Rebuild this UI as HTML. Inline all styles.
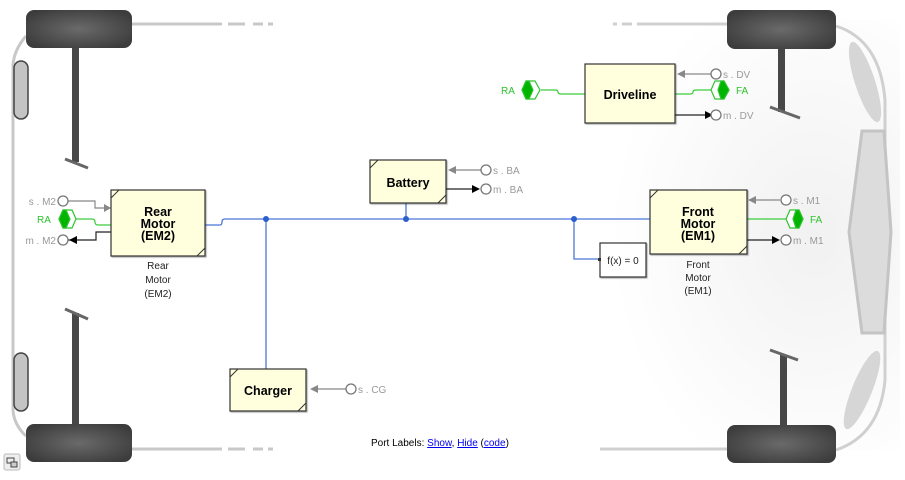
<!DOCTYPE html>
<html><head><style>
body{margin:0;width:905px;height:475px;overflow:hidden;background:#fff;font-family:"Liberation Sans",Arial,sans-serif}
svg text{font-family:"Liberation Sans",Arial,sans-serif}
</style></head><body>
<svg width="905" height="475" viewBox="0 0 905 475" xmlns="http://www.w3.org/2000/svg">
<defs>
<radialGradient id="tg" cx="0.5" cy="0.5" r="0.6"><stop offset="0" stop-color="#6a6a6a"/><stop offset="1" stop-color="#3c3c3c"/></radialGradient>
<radialGradient id="bg" cx="0.75" cy="0.5" r="0.6"><stop offset="0" stop-color="#f1f1f1"/><stop offset="1" stop-color="#fff"/></radialGradient>
<filter id="sh"><feDropShadow dx="1" dy="1" stdDeviation="0.6" flood-color="#000" flood-opacity="0.35"/></filter>
</defs>
<rect x="560" y="20" width="340" height="430" fill="url(#bg)"/>
<g fill="none" stroke="#c8c8c8" stroke-width="3">
<path d="M132 24 H222 M228 24 H245 M253 24 H263 M268 24 H273"/>
<path d="M132 449 H222 M228 449 H245 M253 449 H263 M268 449 H273"/>
<path d="M26 36 Q14 50 13 65 V410 Q14 425 26 436"/>
<path d="M613 24 H617 M622 24 H632 M637 24 H727 M836 26 Q880 40 885 100 V380 Q880 435 836 450 M600 449 H727" stroke="#d0d0d0"/>
</g>
<rect x="14" y="61" width="14" height="58" rx="7" fill="#c4c4c4" stroke="#444" stroke-width="1.5"/>
<rect x="14" y="353" width="14" height="58" rx="7" fill="#c4c4c4" stroke="#444" stroke-width="1.5"/>
<ellipse cx="865" cy="82" rx="10" ry="42" transform="rotate(-18 865 82)" fill="#d6d6d6"/>
<ellipse cx="862" cy="390" rx="10" ry="42" transform="rotate(22 862 390)" fill="#d6d6d6"/>
<polygon points="862,131 884,131 891,232 884,333 862,333 849,232" fill="#dcdcdc" stroke="#c4c4c4" stroke-width="3"/>
<g fill="#474747">
<rect x="72" y="46" width="7" height="116"/>
<rect x="778" y="48" width="7" height="64"/>
<rect x="72" y="313" width="7" height="112"/>
<rect x="780" y="355" width="7" height="70"/>
</g>
<g stroke="#666" stroke-width="3">
<line x1="65" y1="159" x2="88" y2="168"/>
<line x1="770" y1="107" x2="800" y2="118"/>
<line x1="65" y1="309" x2="88" y2="319"/>
<line x1="770" y1="350" x2="798" y2="360"/>
</g>
<g fill="url(#tg)">
<rect x="26" y="10" width="106" height="38" rx="8"/>
<rect x="26" y="424" width="106" height="38" rx="8"/>
<rect x="727" y="10" width="109" height="39" rx="8"/>
<rect x="727" y="425" width="109" height="38" rx="8"/>
</g>
<g fill="none" stroke="#4a78d8" stroke-width="1.3">
<path d="M205 225 H220 Q222 225 222 222 Q222 219 225 219 H650"/>
<path d="M266 219 V369"/>
<path d="M406 203 V219"/>
<path d="M574 219 V259 H600"/>
</g>
<g fill="#2a5fcc"><circle cx="266" cy="219" r="3"/><circle cx="406" cy="219" r="3"/><circle cx="574" cy="219" r="3"/></g>
<g fill="none" stroke-width="1.2">
<path d="M67 201 H95 V208 H104" stroke="#888"/>
<path d="M67 240 H96 V232 H111" stroke="#222"/>
<path d="M76 219 H92 Q95 219 95 222 Q95 225 98 225 H111" stroke="#3ccc3c"/>
<path d="M780 200 H756" stroke="#888"/>
<path d="M747 240 H772" stroke="#222"/>
<path d="M747 219 H786" stroke="#3ccc3c"/>
<path d="M481 170 H456" stroke="#888"/>
<path d="M446 189 H472" stroke="#222"/>
<path d="M350 389 H318" stroke="#888"/>
<path d="M711 74 H685" stroke="#888"/>
<path d="M675 115 H705" stroke="#222"/>
<path d="M675 94 H690 Q693 94 693 92 Q693 90 696 90 H712" stroke="#3ccc3c"/>
<path d="M541 90 H555 Q558 90 558 92 Q558 94 561 94 H585" stroke="#3ccc3c"/>
</g>
<g fill="#888">
<polygon points="104,204 111,208 104,212"/>
<polygon points="756,196 748,200 756,204"/>
<polygon points="456,166 448,170 456,174"/>
<polygon points="318,385 310,389 318,393"/>
<polygon points="685,70 677,74 685,78"/>
</g>
<g fill="#000">
<polygon points="69,240 77,236 77,244"/>
<polygon points="772,236 780,240 772,244"/>
<polygon points="472,185 480,189 472,193"/>
<polygon points="705,111 713,115 705,119"/>
</g>
<g fill="#fff" stroke="#777" stroke-width="1.3">
<circle cx="63" cy="201" r="5"/><circle cx="63" cy="240" r="5"/>
<circle cx="786" cy="200" r="5"/><circle cx="786" cy="240" r="5"/>
<circle cx="486" cy="170" r="5"/><circle cx="486" cy="189" r="5"/>
<circle cx="351" cy="389" r="5"/>
<circle cx="716" cy="74" r="5"/><circle cx="716" cy="115" r="5"/>
</g>
<g stroke="#2ec42e" stroke-width="1.2">
<polygon points="59,219 63,210 72,210 76,219 72,228 63,228" fill="#fff"/>
<polygon points="59,219 63,210 66,210 70,219 66,228 63,228" fill="#00b400"/>
<polygon points="786,219 790,210 799,210 803,219 799,228 790,228" fill="#fff"/>
<polygon points="793,219 796,210 799,210 803,219 799,228 796,228" fill="#00b400"/>
<polygon points="522,90 526,81 535,81 540,90 535,99 526,99" fill="#fff"/>
<polygon points="522,90 526,81 529,81 533,90 529,99 526,99" fill="#00b400"/>
<polygon points="711,90 715,81 724,81 729,90 724,99 715,99" fill="#fff"/>
<polygon points="718,90 721,81 724,81 729,90 724,99 721,99" fill="#00b400"/>
</g>
<g fill="#ffffde" stroke="#333" stroke-width="1.2" filter="url(#sh)">
<rect x="111" y="190" width="94" height="66"/>
<rect x="370" y="160" width="76" height="43"/>
<rect x="650" y="190" width="97" height="64"/>
<rect x="230" y="369" width="76" height="42"/>
<rect x="585" y="64" width="90" height="59"/>
<rect x="600" y="243" width="46" height="34" fill="#fff"/>
</g>
<g stroke="#333" stroke-width="1">
<path d="M111 198 L119 190 M197 256 L205 248"/>
<path d="M370 168 L378 160 M438 203 L446 195"/>
<path d="M650 198 L658 190 M739 254 L747 246"/>
<path d="M230 377 L238 369 M298 411 L306 403"/>
</g>
<rect x="598" y="258" width="3" height="3" fill="#333"/>
<g font-weight="bold" font-size="12.5" text-anchor="middle" fill="#000">
<text x="158" y="216">Rear</text><text x="158" y="228">Motor</text><text x="158" y="240">(EM2)</text>
<text x="698" y="216">Front</text><text x="698" y="228">Motor</text><text x="698" y="240">(EM1)</text>
<text x="408" y="187">Battery</text>
<text x="268" y="395">Charger</text>
<text x="630" y="99">Driveline</text>
</g>
<g font-size="10" text-anchor="middle" fill="#222">
<text x="158" y="269">Rear</text><text x="158" y="283">Motor</text><text x="158" y="297">(EM2)</text>
<text x="698" y="268">Front</text><text x="698" y="281">Motor</text><text x="698" y="294">(EM1)</text>
<text x="623" y="264">f(x) = 0</text>
</g>
<g font-size="10" fill="#999">
<text x="56" y="205" text-anchor="end">s . M2</text>
<text x="56" y="244" text-anchor="end">m . M2</text>
<text x="793" y="204">s . M1</text>
<text x="793" y="244">m . M1</text>
<text x="493" y="174">s . BA</text>
<text x="493" y="193">m . BA</text>
<text x="358" y="393">s . CG</text>
<text x="723" y="78">s . DV</text>
<text x="723" y="119">m . DV</text>
</g>
<g font-size="10" fill="#2ec42e">
<text x="37" y="223">RA</text>
<text x="810" y="223">FA</text>
<text x="501" y="94">RA</text>
<text x="736" y="94">FA</text>
</g>
<text x="371" y="446" font-size="10" fill="#000">Port Labels: <tspan fill="#00e" text-decoration="underline">Show</tspan>, <tspan fill="#00e" text-decoration="underline">Hide</tspan> (<tspan fill="#00e" text-decoration="underline">code</tspan>)</text>
<rect x="4" y="454" width="16" height="16" rx="2" fill="#eee" stroke="#bbb"/>
<rect x="7" y="458" width="7" height="5" fill="none" stroke="#444"/>
<rect x="11" y="462" width="6" height="5" fill="#ccc" stroke="#444"/>
</svg>
</body></html>
